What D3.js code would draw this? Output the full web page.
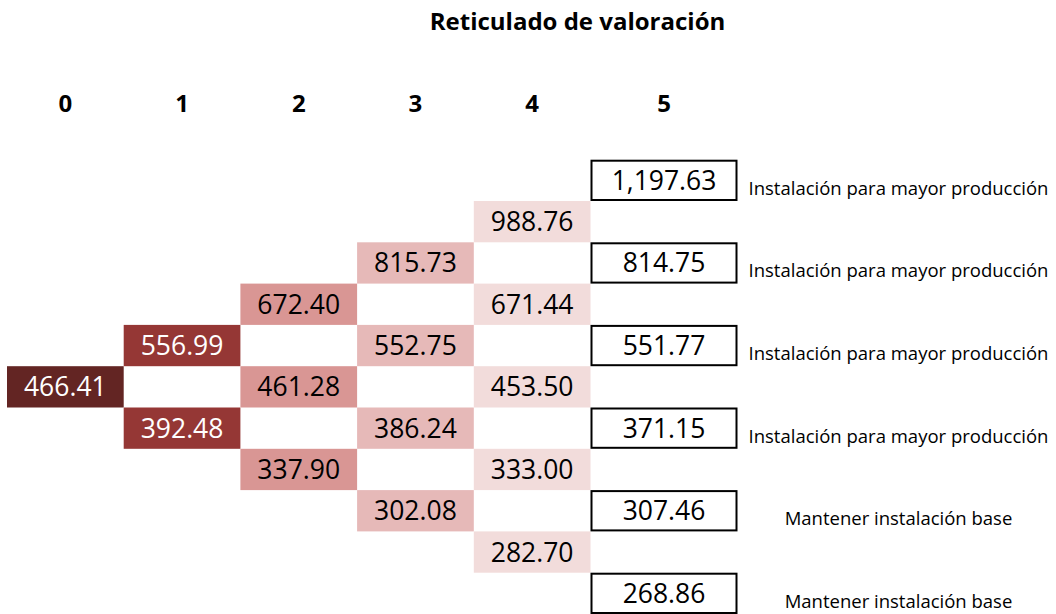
<!DOCTYPE html>
<html>
<head>
<meta charset="utf-8">
<script src="https://cdn.jsdelivr.net/npm/d3@7"></script>
<style>
  html, body { margin: 0; padding: 0; background: #fff; }
  svg { display: block; font-family: 'Open Sans', Lato, sans-serif; }
</style>
</head>
<body>
<div id="chart"></div>
<script>
const title = 'Reticulado de valoración'
const periods = [0, 1, 2, 3, 4, 5]

// node values per period, top (up-most) to bottom
const lattice = [
  [466.41],
  [556.99, 392.48],
  [672.40, 461.28, 337.90],
  [815.73, 552.75, 386.24, 302.08],
  [988.76, 671.44, 453.50, 333.00, 282.70],
  [1197.63, 814.75, 551.77, 371.15, 307.46, 268.86]
]

const decisions = [
  'Instalación para mayor producción',
  'Instalación para mayor producción',
  'Instalación para mayor producción',
  'Instalación para mayor producción',
  'Mantener instalación base',
  'Mantener instalación base'
]

const fills = ['#632523', '#953735', '#d99694', '#e6b9b8', '#f2dcdb', '#ffffff']
const textColors = ['#ffffff', '#ffffff', '#000000', '#000000', '#000000', '#000000']

const width = 1056
const height = 614
const last = periods.length - 1
const nRows = 2 * last + 1

const svg = d3.select('#chart').append('svg')
  .attr('width', width)
  .attr('height', height)

// column left edges; period 5 cells are wider boxes
let x = d3.scaleLinear().domain([0, last]).range([7, 590.5])
let colW = j => j < last ? x(1) - x(0) : 147
let y = d3.scaleBand().domain(d3.range(nRows)).range([159.7, 614])

let fmt = d3.format(',.2f')

let nodes = []
lattice.forEach((col, j) => {
  col.forEach((v, i) => {
    nodes.push({ period: j, row: last - j + 2 * i, value: v })
  })
})

svg.append('text')
  .attr('x', 577.5)
  .attr('y', 30)
  .attr('text-anchor', 'middle')
  .attr('font-weight', 700)
  .attr('font-size', 24)
  .text(title)

svg.append('g')
  .selectAll('text')
  .data(periods)
  .join('text')
  .attr('x', d => x(d) + colW(d) / 2)
  .attr('y', 112)
  .attr('text-anchor', 'middle')
  .attr('font-weight', 700)
  .attr('font-size', 24)
  .text(d => d)

let cell = svg.append('g')
  .selectAll('g')
  .data(nodes)
  .join('g')
  .attr('transform', d => `translate(${x(d.period)},${y(d.row)})`)

cell.append('rect')
  .attr('x', d => d.period === last ? 1 : 0)
  .attr('y', d => d.period === last ? 1 : 0)
  .attr('width', d => colW(d.period) - (d.period === last ? 2 : 0))
  .attr('height', d => y.bandwidth() - (d.period === last ? 2 : 0))
  .attr('fill', d => fills[d.period])
  .attr('stroke', d => d.period === last ? '#000' : 'none')
  .attr('stroke-width', 2)

cell.append('text')
  .attr('x', d => colW(d.period) / 2)
  .attr('y', y.bandwidth() / 2)
  .attr('dy', '0.36em')
  .attr('text-anchor', 'middle')
  .attr('font-size', 26.5)
  .attr('fill', d => textColors[d.period])
  .text(d => fmt(d.value))

svg.append('g')
  .selectAll('text')
  .data(decisions)
  .join('text')
  .attr('x', 898.5)
  .attr('y', (d, i) => y(2 * i) + y.bandwidth() / 2 + 14.5)
  .attr('text-anchor', 'middle')
  .attr('font-size', 18.5)
  .text(d => d)
</script>
</body>
</html>
